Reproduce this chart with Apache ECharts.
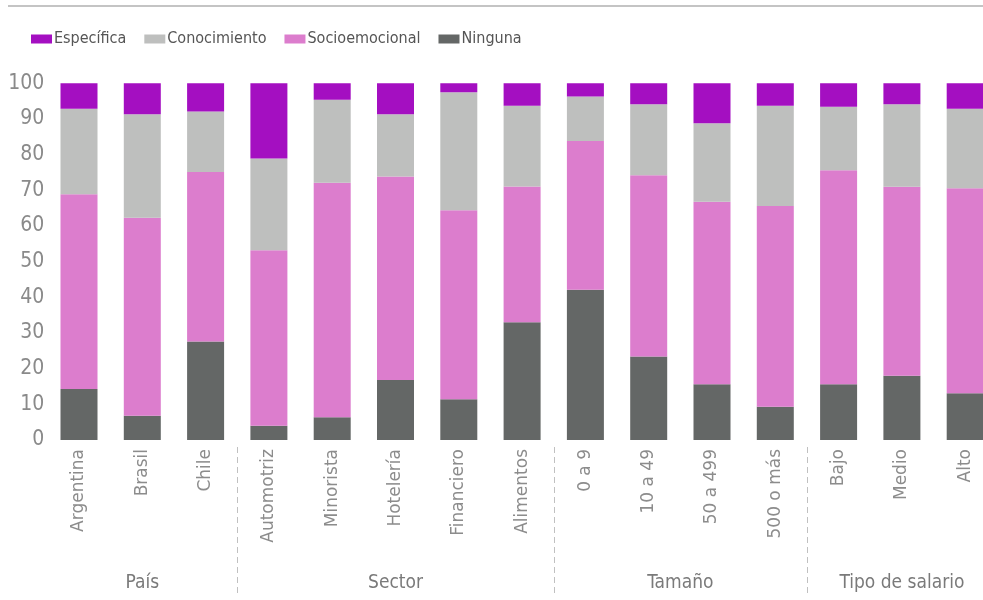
<!DOCTYPE html>
<html>
<head>
<meta charset="utf-8">
<script src="https://cdn.jsdelivr.net/npm/echarts@6/dist/echarts.min.js"></script>
<style>
html,body{margin:0;padding:0;background:#fff;}
#chart{width:983px;height:600px;}
</style>
</head>
<body>
<div id="chart"></div>
<script>
const categories = ['Argentina','Brasil','Chile','Automotriz','Minorista','Hotelería','Financiero','Alimentos','0 a 9','10 a 49','50 a 499','500 o más','Bajo','Medio','Alto'];
const groupNames = ['País','Sector','Tamaño','Tipo de salario'];
const groupSizes = [3,5,4,3];
const ninguna        = [14.3, 6.8, 27.6, 4.0, 6.4, 16.8, 11.4, 33.0, 42.1, 23.4, 15.6, 9.3, 15.6, 18.0, 13.1];
const socioemocional = [54.6, 55.5, 47.5, 49.2, 65.7, 57.1, 53.0, 38.1, 41.7, 50.8, 51.2, 56.3, 60.0, 53.0, 57.5];
const conocimiento   = [24.0, 29.0, 17.0, 25.7, 23.3, 17.4, 33.1, 22.6, 12.5, 19.9, 22.0, 28.1, 17.8, 23.1, 22.3];
const especifica     = [7.1, 8.7, 7.9, 21.1, 4.6, 8.7, 2.5, 6.3, 3.7, 5.9, 11.2, 6.3, 6.6, 5.9, 7.1];
const yTicks = [0,10,20,30,40,50,60,70,80,90,100];

const NARROW = '"DejaVu Sans Condensed","Liberation Sans Narrow",sans-serif';
const chart = echarts.init(document.getElementById('chart'));

function bar(name, data, color){
  return {name, type:'bar', stack:'total', data, barWidth:37,
    itemStyle:{color}, emphasis:{disabled:true}};
}

chart.setOption({
  animation:false,
  legend:{
    data:['Específica','Conocimiento','Socioemocional','Ninguna'],
    left:31, top:31, padding:0, itemWidth:21, itemHeight:9, itemGap:18,
    icon:'rect',
    textStyle:{fontFamily:NARROW, fontSize:16, color:'#555', padding:[0,0,0,-3]}
  },
  grid:{left:47.35, width:949.5, top:83.3, height:356.7, containLabel:false, outerBoundsMode:'none'},
  xAxis:{
    type:'category', data:categories,
    axisLine:{show:false}, axisTick:{show:false},
    axisLabel:{rotate:90, margin:9, fontFamily:'"DejaVu Sans",sans-serif', fontSize:17, color:'#8c8c8c', interval:0}
  },
  yAxis:{
    type:'value', min:0, max:100, interval:10,
    axisLine:{show:false}, axisTick:{show:false}, splitLine:{show:false},
    axisLabel:{margin:3, fontFamily:NARROW, fontSize:21, color:'#8a8a8a',
      formatter: v => yTicks.includes(v) ? String(v) : ''}
  },
  series:[
    bar('Ninguna', ninguna, '#646766'),
    bar('Socioemocional', socioemocional, '#dc7dcd'),
    bar('Conocimiento', conocimiento, '#bebfbe'),
    bar('Específica', especifica, '#a40fc1')
  ]
});

// Annotations: top rule, group separators and group labels, positioned from the axis scale
const graphics = [{
  type:'line', shape:{x1:8, y1:6, x2:983, y2:6},
  style:{stroke:'#c4c4c4', lineWidth:2}, silent:true
}];
let start = 0;
groupNames.forEach((g, gi) => {
  const end = start + groupSizes[gi] - 1;
  const xs = chart.convertToPixel({gridIndex:0}, [start, 0])[0];
  const xe = chart.convertToPixel({gridIndex:0}, [end, 0])[0];
  graphics.push({
    type:'text', x:(xs+xe)/2, y:583,
    style:{text:g, fill:'#7a7a7a', font:'19px ' + NARROW, align:'center', verticalAlign:'middle'},
    silent:true
  });
  if (gi < groupNames.length - 1) {
    const xn = chart.convertToPixel({gridIndex:0}, [end+1, 0])[0];
    const xm = Math.round((xe + xn)/2) + 0.5;
    graphics.push({
      type:'line', shape:{x1:xm, y1:447, x2:xm, y2:597},
      style:{stroke:'#c0c0c0', lineWidth:1, lineDash:[6,4]}, silent:true
    });
  }
  start = end + 1;
});
chart.setOption({graphic:graphics});
</script>
</body>
</html>
